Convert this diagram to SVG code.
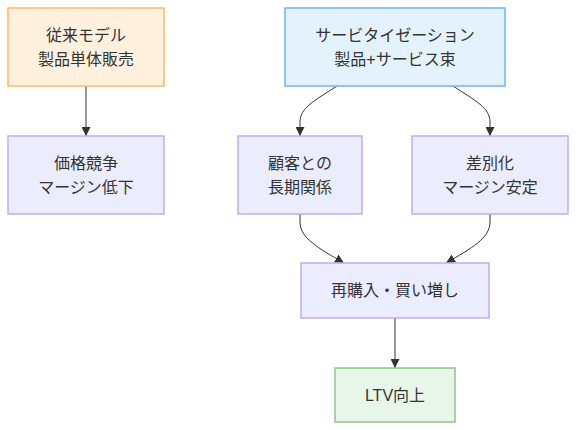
<svg xmlns="http://www.w3.org/2000/svg" width="576" height="430" viewBox="0 0 576 430">
<style>
  .lbl { font-family: "Liberation Sans", "Noto Sans CJK JP", sans-serif; font-size: 16px; fill: #333; text-anchor: middle; dominant-baseline: central; }
  .def rect { fill: #ECECFF; stroke: #C3ACEC; stroke-width: 1.5; }
  .orange rect { fill: #FFF1DE; stroke: #FFB868; stroke-width: 1.5; }
  .blue rect { fill: #E3F2FD; stroke: #72B4EE; stroke-width: 1.5; }
  .green rect { fill: #E8F5E9; stroke: #8CC78E; stroke-width: 1.5; }
  .edge { fill: none; stroke: #333; stroke-width: 1; }
</style>
<defs>
  <marker id="arrow" viewBox="0 0 10 10" refX="10" refY="5" markerWidth="9" markerHeight="9" markerUnits="userSpaceOnUse" orient="auto">
    <path d="M0,0 L10,5 L0,10 z" fill="#333"/>
  </marker>
</defs>
<rect width="576" height="430" fill="#fff"/>
<g id="edges">
  <path class="edge" d="M86,86 L86,136" marker-end="url(#arrow)"/>
  <path class="edge" d="M337,86 C314,101 300,108 300,122 L300,136" marker-end="url(#arrow)"/>
  <path class="edge" d="M453,86 C476,101 490,108 490,122 L490,136" marker-end="url(#arrow)"/>
  <path class="edge" d="M300,214 L300,222 C300,238 318,248 344,263" marker-end="url(#arrow)"/>
  <path class="edge" d="M490,214 L490,222 C490,238 472,248 446,263" marker-end="url(#arrow)"/>
  <path class="edge" d="M395,318 L395,368" marker-end="url(#arrow)"/>
</g>
<g id="nodeA" class="orange">
  <rect x="8" y="8" width="156" height="78"/>
  <text class="lbl" x="86" y="35">従来モデル</text>
  <text class="lbl" x="86" y="59">製品単体販売</text>
</g>
<g id="nodeB" class="def">
  <rect x="8" y="136" width="156" height="78"/>
  <text class="lbl" x="86" y="163">価格競争</text>
  <text class="lbl" x="86" y="187">マージン低下</text>
</g>
<g id="nodeC" class="blue">
  <rect x="285" y="8" width="220" height="78"/>
  <text class="lbl" x="395" y="35">サービタイゼーション</text>
  <text class="lbl" x="395" y="59">製品+サービス束</text>
</g>
<g id="nodeD" class="def">
  <rect x="238" y="136" width="124" height="78"/>
  <text class="lbl" x="300" y="163">顧客との</text>
  <text class="lbl" x="300" y="187">長期関係</text>
</g>
<g id="nodeE" class="def">
  <rect x="412" y="136" width="156" height="78"/>
  <text class="lbl" x="490" y="163">差別化</text>
  <text class="lbl" x="490" y="187">マージン安定</text>
</g>
<g id="nodeF" class="def">
  <rect x="301" y="263" width="188" height="55"/>
  <text class="lbl" x="395" y="290.5">再購入・買い増し</text>
</g>
<g id="nodeG" class="green">
  <rect x="335" y="368" width="120" height="54"/>
  <text class="lbl" x="395" y="395">LTV向上</text>
</g>
</svg>
